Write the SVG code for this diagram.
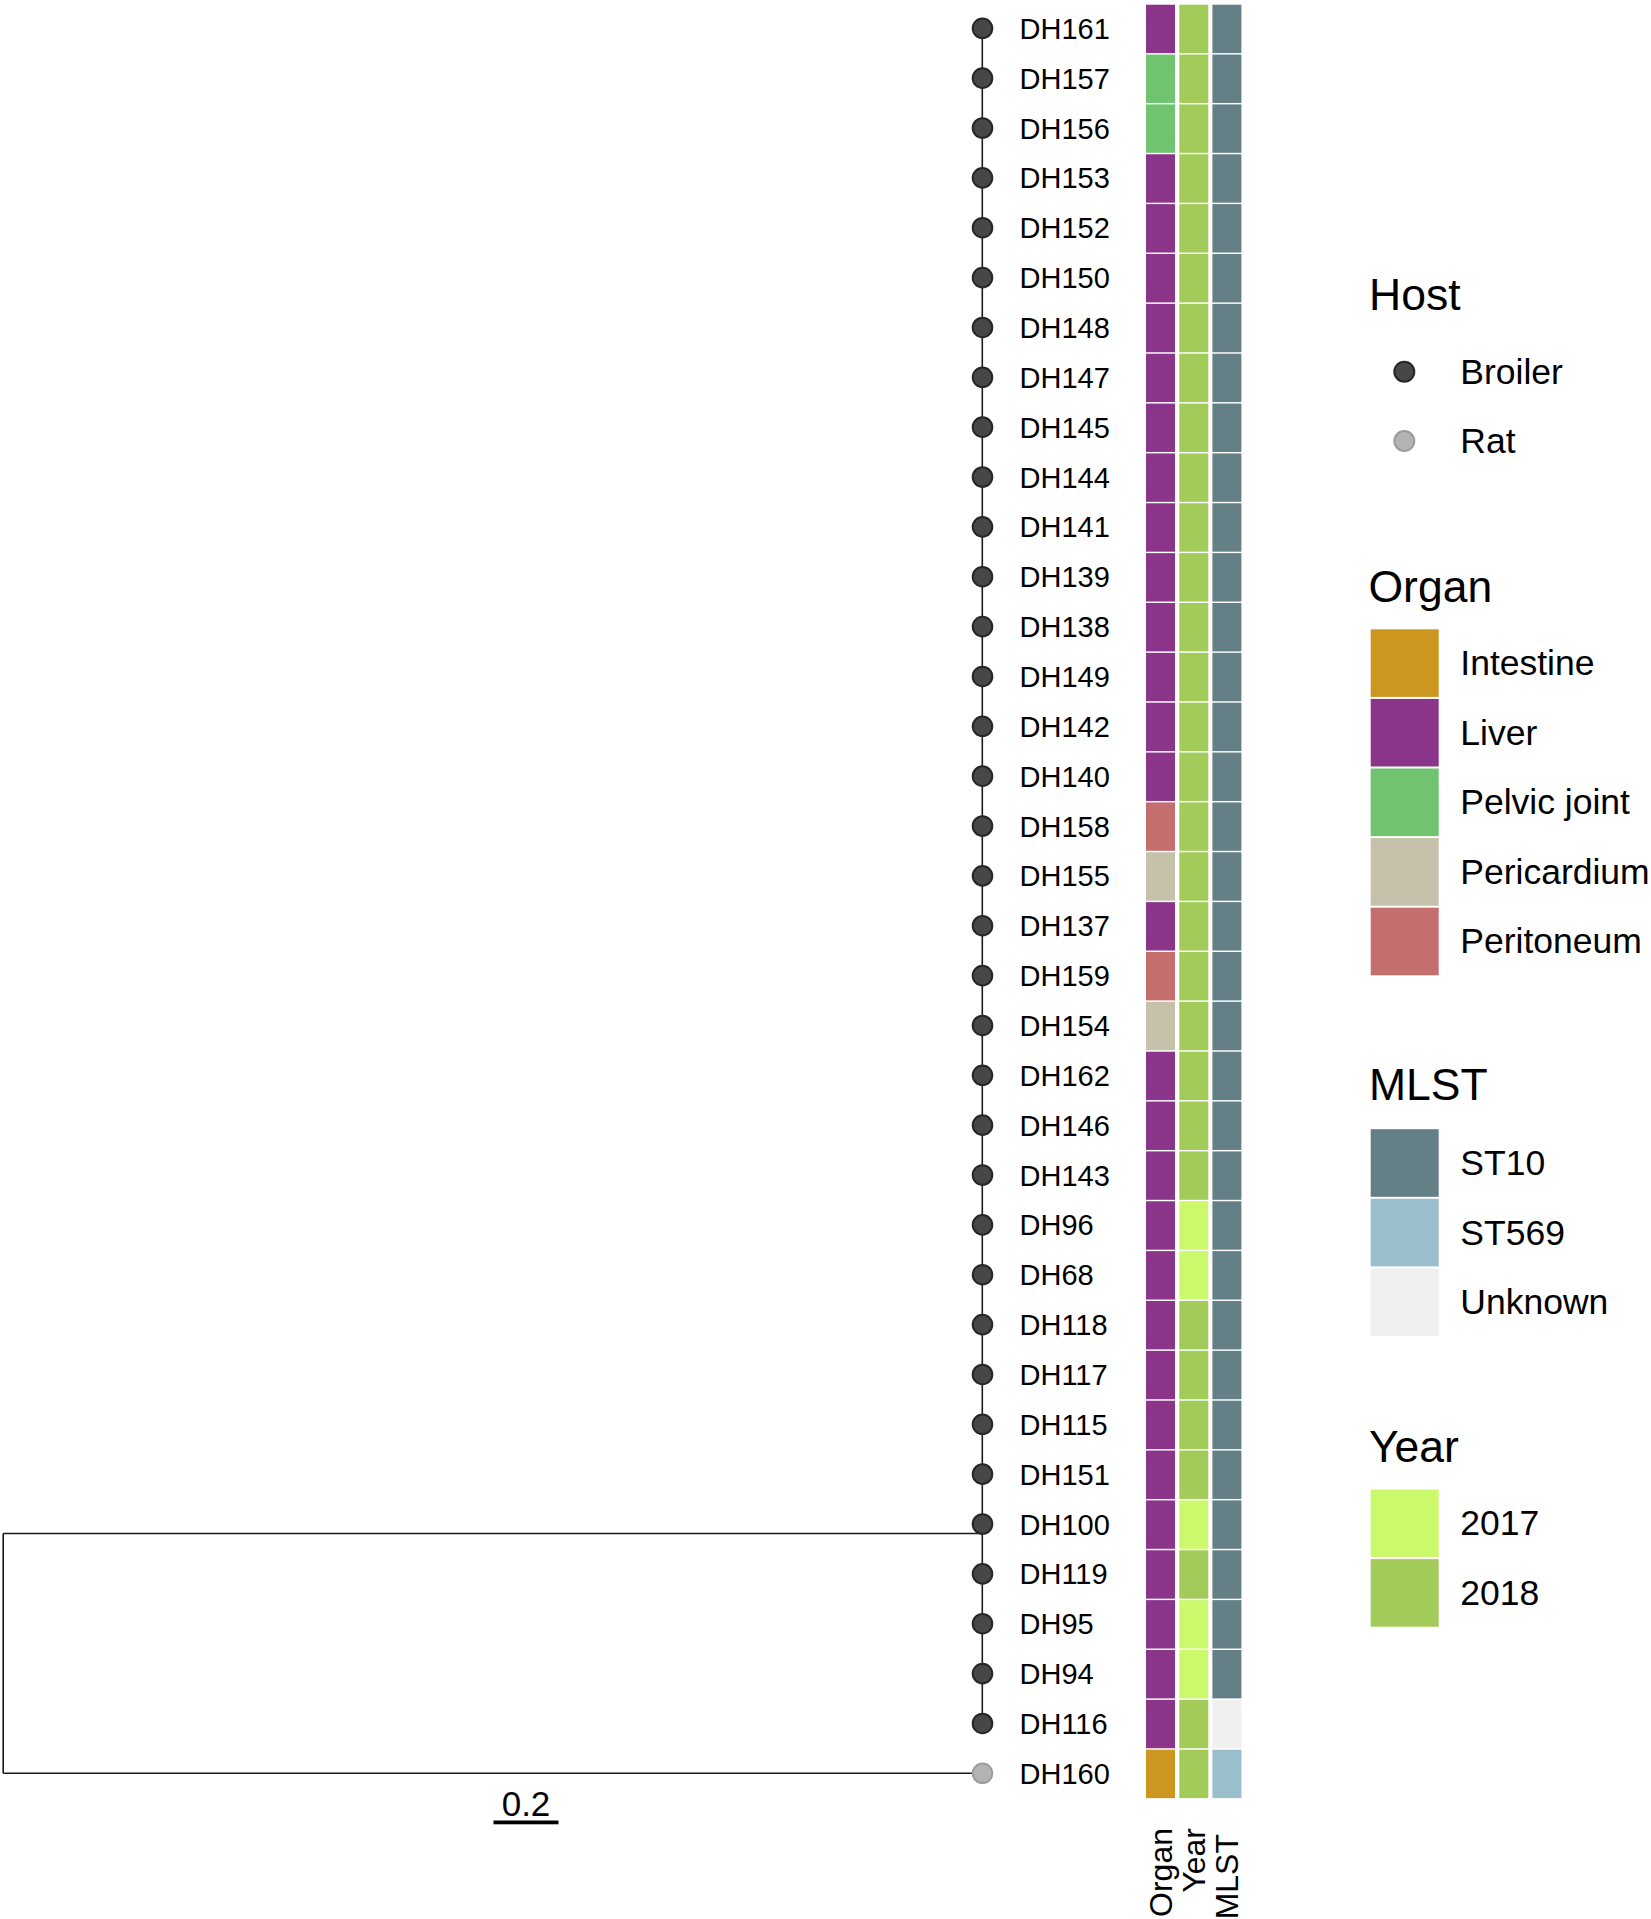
<svg xmlns="http://www.w3.org/2000/svg" width="1651" height="1919" viewBox="0 0 1651 1919">
<style>
text{font-family:"Liberation Sans",Arial,sans-serif;fill:#000}
.lbl{font-size:29px}
.ltitle{font-size:44.5px}
.litem{font-size:35.5px}
.axis{font-size:32px}
.edge{stroke:#1a1a1a;stroke-width:1.6;fill:none}
.broiler{fill:#474747;stroke:#262626;stroke-width:2}
.rat{fill:#b3b3b3;stroke:#9c9c9c;stroke-width:2}
.liver{fill:#8b358a}
.intestine{fill:#cc961f}
.pelvic{fill:#70c46f}
.pericardium{fill:#c6c1aa}
.peritoneum{fill:#c56e6e}
.y2017{fill:#cbf96b}
.y2018{fill:#a2cb5a}
.st10{fill:#647f85}
.st569{fill:#9bbecc}
.unknown{fill:#f0f0f0}
</style>
<defs>
<rect id="tile" width="29" height="48.4"/>
</defs>
<rect width="1651" height="1919" fill="#fff"/>
<g id="connectors">
<line class="edge" x1="982.3" y1="28.3" x2="982.3" y2="1723.4"/>
<line class="edge" x1="3.2" y1="1533.5" x2="982.3" y2="1533.5"/>
<line class="edge" x1="3.2" y1="1533.5" x2="3.2" y2="1773.3"/>
<line class="edge" x1="3.2" y1="1773.3" x2="982.3" y2="1773.3"/>
</g>
<g id="nodes">
<g id="node-DH161" transform="translate(0,28.3)"><circle class="broiler" cx="982.5" cy="0" r="9.8"/><text class="lbl" x="1019.5" y="10.5">DH161</text><use href="#tile" class="liver" x="1146" y="-23.6"/><use href="#tile" class="y2018" x="1179.3" y="-23.6"/><use href="#tile" class="st10" x="1212.4" y="-23.6"/></g>
<g id="node-DH157" transform="translate(0,78.16)"><circle class="broiler" cx="982.5" cy="0" r="9.8"/><text class="lbl" x="1019.5" y="10.5">DH157</text><use href="#tile" class="pelvic" x="1146" y="-23.6"/><use href="#tile" class="y2018" x="1179.3" y="-23.6"/><use href="#tile" class="st10" x="1212.4" y="-23.6"/></g>
<g id="node-DH156" transform="translate(0,128.01)"><circle class="broiler" cx="982.5" cy="0" r="9.8"/><text class="lbl" x="1019.5" y="10.5">DH156</text><use href="#tile" class="pelvic" x="1146" y="-23.6"/><use href="#tile" class="y2018" x="1179.3" y="-23.6"/><use href="#tile" class="st10" x="1212.4" y="-23.6"/></g>
<g id="node-DH153" transform="translate(0,177.87)"><circle class="broiler" cx="982.5" cy="0" r="9.8"/><text class="lbl" x="1019.5" y="10.5">DH153</text><use href="#tile" class="liver" x="1146" y="-23.6"/><use href="#tile" class="y2018" x="1179.3" y="-23.6"/><use href="#tile" class="st10" x="1212.4" y="-23.6"/></g>
<g id="node-DH152" transform="translate(0,227.73)"><circle class="broiler" cx="982.5" cy="0" r="9.8"/><text class="lbl" x="1019.5" y="10.5">DH152</text><use href="#tile" class="liver" x="1146" y="-23.6"/><use href="#tile" class="y2018" x="1179.3" y="-23.6"/><use href="#tile" class="st10" x="1212.4" y="-23.6"/></g>
<g id="node-DH150" transform="translate(0,277.59)"><circle class="broiler" cx="982.5" cy="0" r="9.8"/><text class="lbl" x="1019.5" y="10.5">DH150</text><use href="#tile" class="liver" x="1146" y="-23.6"/><use href="#tile" class="y2018" x="1179.3" y="-23.6"/><use href="#tile" class="st10" x="1212.4" y="-23.6"/></g>
<g id="node-DH148" transform="translate(0,327.44)"><circle class="broiler" cx="982.5" cy="0" r="9.8"/><text class="lbl" x="1019.5" y="10.5">DH148</text><use href="#tile" class="liver" x="1146" y="-23.6"/><use href="#tile" class="y2018" x="1179.3" y="-23.6"/><use href="#tile" class="st10" x="1212.4" y="-23.6"/></g>
<g id="node-DH147" transform="translate(0,377.30)"><circle class="broiler" cx="982.5" cy="0" r="9.8"/><text class="lbl" x="1019.5" y="10.5">DH147</text><use href="#tile" class="liver" x="1146" y="-23.6"/><use href="#tile" class="y2018" x="1179.3" y="-23.6"/><use href="#tile" class="st10" x="1212.4" y="-23.6"/></g>
<g id="node-DH145" transform="translate(0,427.16)"><circle class="broiler" cx="982.5" cy="0" r="9.8"/><text class="lbl" x="1019.5" y="10.5">DH145</text><use href="#tile" class="liver" x="1146" y="-23.6"/><use href="#tile" class="y2018" x="1179.3" y="-23.6"/><use href="#tile" class="st10" x="1212.4" y="-23.6"/></g>
<g id="node-DH144" transform="translate(0,477.01)"><circle class="broiler" cx="982.5" cy="0" r="9.8"/><text class="lbl" x="1019.5" y="10.5">DH144</text><use href="#tile" class="liver" x="1146" y="-23.6"/><use href="#tile" class="y2018" x="1179.3" y="-23.6"/><use href="#tile" class="st10" x="1212.4" y="-23.6"/></g>
<g id="node-DH141" transform="translate(0,526.87)"><circle class="broiler" cx="982.5" cy="0" r="9.8"/><text class="lbl" x="1019.5" y="10.5">DH141</text><use href="#tile" class="liver" x="1146" y="-23.6"/><use href="#tile" class="y2018" x="1179.3" y="-23.6"/><use href="#tile" class="st10" x="1212.4" y="-23.6"/></g>
<g id="node-DH139" transform="translate(0,576.73)"><circle class="broiler" cx="982.5" cy="0" r="9.8"/><text class="lbl" x="1019.5" y="10.5">DH139</text><use href="#tile" class="liver" x="1146" y="-23.6"/><use href="#tile" class="y2018" x="1179.3" y="-23.6"/><use href="#tile" class="st10" x="1212.4" y="-23.6"/></g>
<g id="node-DH138" transform="translate(0,626.58)"><circle class="broiler" cx="982.5" cy="0" r="9.8"/><text class="lbl" x="1019.5" y="10.5">DH138</text><use href="#tile" class="liver" x="1146" y="-23.6"/><use href="#tile" class="y2018" x="1179.3" y="-23.6"/><use href="#tile" class="st10" x="1212.4" y="-23.6"/></g>
<g id="node-DH149" transform="translate(0,676.44)"><circle class="broiler" cx="982.5" cy="0" r="9.8"/><text class="lbl" x="1019.5" y="10.5">DH149</text><use href="#tile" class="liver" x="1146" y="-23.6"/><use href="#tile" class="y2018" x="1179.3" y="-23.6"/><use href="#tile" class="st10" x="1212.4" y="-23.6"/></g>
<g id="node-DH142" transform="translate(0,726.30)"><circle class="broiler" cx="982.5" cy="0" r="9.8"/><text class="lbl" x="1019.5" y="10.5">DH142</text><use href="#tile" class="liver" x="1146" y="-23.6"/><use href="#tile" class="y2018" x="1179.3" y="-23.6"/><use href="#tile" class="st10" x="1212.4" y="-23.6"/></g>
<g id="node-DH140" transform="translate(0,776.16)"><circle class="broiler" cx="982.5" cy="0" r="9.8"/><text class="lbl" x="1019.5" y="10.5">DH140</text><use href="#tile" class="liver" x="1146" y="-23.6"/><use href="#tile" class="y2018" x="1179.3" y="-23.6"/><use href="#tile" class="st10" x="1212.4" y="-23.6"/></g>
<g id="node-DH158" transform="translate(0,826.01)"><circle class="broiler" cx="982.5" cy="0" r="9.8"/><text class="lbl" x="1019.5" y="10.5">DH158</text><use href="#tile" class="peritoneum" x="1146" y="-23.6"/><use href="#tile" class="y2018" x="1179.3" y="-23.6"/><use href="#tile" class="st10" x="1212.4" y="-23.6"/></g>
<g id="node-DH155" transform="translate(0,875.87)"><circle class="broiler" cx="982.5" cy="0" r="9.8"/><text class="lbl" x="1019.5" y="10.5">DH155</text><use href="#tile" class="pericardium" x="1146" y="-23.6"/><use href="#tile" class="y2018" x="1179.3" y="-23.6"/><use href="#tile" class="st10" x="1212.4" y="-23.6"/></g>
<g id="node-DH137" transform="translate(0,925.73)"><circle class="broiler" cx="982.5" cy="0" r="9.8"/><text class="lbl" x="1019.5" y="10.5">DH137</text><use href="#tile" class="liver" x="1146" y="-23.6"/><use href="#tile" class="y2018" x="1179.3" y="-23.6"/><use href="#tile" class="st10" x="1212.4" y="-23.6"/></g>
<g id="node-DH159" transform="translate(0,975.58)"><circle class="broiler" cx="982.5" cy="0" r="9.8"/><text class="lbl" x="1019.5" y="10.5">DH159</text><use href="#tile" class="peritoneum" x="1146" y="-23.6"/><use href="#tile" class="y2018" x="1179.3" y="-23.6"/><use href="#tile" class="st10" x="1212.4" y="-23.6"/></g>
<g id="node-DH154" transform="translate(0,1025.44)"><circle class="broiler" cx="982.5" cy="0" r="9.8"/><text class="lbl" x="1019.5" y="10.5">DH154</text><use href="#tile" class="pericardium" x="1146" y="-23.6"/><use href="#tile" class="y2018" x="1179.3" y="-23.6"/><use href="#tile" class="st10" x="1212.4" y="-23.6"/></g>
<g id="node-DH162" transform="translate(0,1075.30)"><circle class="broiler" cx="982.5" cy="0" r="9.8"/><text class="lbl" x="1019.5" y="10.5">DH162</text><use href="#tile" class="liver" x="1146" y="-23.6"/><use href="#tile" class="y2018" x="1179.3" y="-23.6"/><use href="#tile" class="st10" x="1212.4" y="-23.6"/></g>
<g id="node-DH146" transform="translate(0,1125.15)"><circle class="broiler" cx="982.5" cy="0" r="9.8"/><text class="lbl" x="1019.5" y="10.5">DH146</text><use href="#tile" class="liver" x="1146" y="-23.6"/><use href="#tile" class="y2018" x="1179.3" y="-23.6"/><use href="#tile" class="st10" x="1212.4" y="-23.6"/></g>
<g id="node-DH143" transform="translate(0,1175.01)"><circle class="broiler" cx="982.5" cy="0" r="9.8"/><text class="lbl" x="1019.5" y="10.5">DH143</text><use href="#tile" class="liver" x="1146" y="-23.6"/><use href="#tile" class="y2018" x="1179.3" y="-23.6"/><use href="#tile" class="st10" x="1212.4" y="-23.6"/></g>
<g id="node-DH96" transform="translate(0,1224.87)"><circle class="broiler" cx="982.5" cy="0" r="9.8"/><text class="lbl" x="1019.5" y="10.5">DH96</text><use href="#tile" class="liver" x="1146" y="-23.6"/><use href="#tile" class="y2017" x="1179.3" y="-23.6"/><use href="#tile" class="st10" x="1212.4" y="-23.6"/></g>
<g id="node-DH68" transform="translate(0,1274.73)"><circle class="broiler" cx="982.5" cy="0" r="9.8"/><text class="lbl" x="1019.5" y="10.5">DH68</text><use href="#tile" class="liver" x="1146" y="-23.6"/><use href="#tile" class="y2017" x="1179.3" y="-23.6"/><use href="#tile" class="st10" x="1212.4" y="-23.6"/></g>
<g id="node-DH118" transform="translate(0,1324.58)"><circle class="broiler" cx="982.5" cy="0" r="9.8"/><text class="lbl" x="1019.5" y="10.5">DH118</text><use href="#tile" class="liver" x="1146" y="-23.6"/><use href="#tile" class="y2018" x="1179.3" y="-23.6"/><use href="#tile" class="st10" x="1212.4" y="-23.6"/></g>
<g id="node-DH117" transform="translate(0,1374.44)"><circle class="broiler" cx="982.5" cy="0" r="9.8"/><text class="lbl" x="1019.5" y="10.5">DH117</text><use href="#tile" class="liver" x="1146" y="-23.6"/><use href="#tile" class="y2018" x="1179.3" y="-23.6"/><use href="#tile" class="st10" x="1212.4" y="-23.6"/></g>
<g id="node-DH115" transform="translate(0,1424.30)"><circle class="broiler" cx="982.5" cy="0" r="9.8"/><text class="lbl" x="1019.5" y="10.5">DH115</text><use href="#tile" class="liver" x="1146" y="-23.6"/><use href="#tile" class="y2018" x="1179.3" y="-23.6"/><use href="#tile" class="st10" x="1212.4" y="-23.6"/></g>
<g id="node-DH151" transform="translate(0,1474.15)"><circle class="broiler" cx="982.5" cy="0" r="9.8"/><text class="lbl" x="1019.5" y="10.5">DH151</text><use href="#tile" class="liver" x="1146" y="-23.6"/><use href="#tile" class="y2018" x="1179.3" y="-23.6"/><use href="#tile" class="st10" x="1212.4" y="-23.6"/></g>
<g id="node-DH100" transform="translate(0,1524.01)"><circle class="broiler" cx="982.5" cy="0" r="9.8"/><text class="lbl" x="1019.5" y="10.5">DH100</text><use href="#tile" class="liver" x="1146" y="-23.6"/><use href="#tile" class="y2017" x="1179.3" y="-23.6"/><use href="#tile" class="st10" x="1212.4" y="-23.6"/></g>
<g id="node-DH119" transform="translate(0,1573.87)"><circle class="broiler" cx="982.5" cy="0" r="9.8"/><text class="lbl" x="1019.5" y="10.5">DH119</text><use href="#tile" class="liver" x="1146" y="-23.6"/><use href="#tile" class="y2018" x="1179.3" y="-23.6"/><use href="#tile" class="st10" x="1212.4" y="-23.6"/></g>
<g id="node-DH95" transform="translate(0,1623.72)"><circle class="broiler" cx="982.5" cy="0" r="9.8"/><text class="lbl" x="1019.5" y="10.5">DH95</text><use href="#tile" class="liver" x="1146" y="-23.6"/><use href="#tile" class="y2017" x="1179.3" y="-23.6"/><use href="#tile" class="st10" x="1212.4" y="-23.6"/></g>
<g id="node-DH94" transform="translate(0,1673.58)"><circle class="broiler" cx="982.5" cy="0" r="9.8"/><text class="lbl" x="1019.5" y="10.5">DH94</text><use href="#tile" class="liver" x="1146" y="-23.6"/><use href="#tile" class="y2017" x="1179.3" y="-23.6"/><use href="#tile" class="st10" x="1212.4" y="-23.6"/></g>
<g id="node-DH116" transform="translate(0,1723.44)"><circle class="broiler" cx="982.5" cy="0" r="9.8"/><text class="lbl" x="1019.5" y="10.5">DH116</text><use href="#tile" class="liver" x="1146" y="-23.6"/><use href="#tile" class="y2018" x="1179.3" y="-23.6"/><use href="#tile" class="unknown" x="1212.4" y="-23.6"/></g>
<g id="node-DH160" transform="translate(0,1773.30)"><circle class="rat" cx="982.5" cy="0" r="9.8"/><text class="lbl" x="1019.5" y="10.5">DH160</text><use href="#tile" class="intestine" x="1146" y="-23.6"/><use href="#tile" class="y2018" x="1179.3" y="-23.6"/><use href="#tile" class="st569" x="1212.4" y="-23.6"/></g>
</g>
<g id="column-labels">
<text class="axis" text-anchor="end" transform="translate(1171.5,1828) rotate(-90)">Organ</text>
<text class="axis" text-anchor="end" transform="translate(1204.5,1828) rotate(-90)">Year</text>
<text class="axis" text-anchor="end" transform="translate(1238,1834) rotate(-90)">MLST</text>
</g>
<g id="scale-bar">
<text x="526" y="1816" font-size="35" text-anchor="middle">0.2</text>
<rect x="493.5" y="1820.5" width="65" height="3.8" fill="#000"/>
</g>
<g id="legend-host">
<text class="ltitle" x="1369" y="310">Host</text>
<circle class="broiler" cx="1404.3" cy="371.7" r="10"/>
<text class="litem" x="1460.3" y="384">Broiler</text>
<circle class="rat" cx="1404.3" cy="441" r="10"/>
<text class="litem" x="1460.3" y="453.3">Rat</text>
</g>
<g id="legend-organ">
<text class="ltitle" x="1368.5" y="601.7">Organ</text>
<rect class="intestine" x="1370.7" y="629.3" width="68" height="67.6"/>
<rect class="liver" x="1370.7" y="698.9" width="68" height="67.6"/>
<rect class="pelvic" x="1370.7" y="768.5" width="68" height="67.6"/>
<rect class="pericardium" x="1370.7" y="838.1" width="68" height="67.6"/>
<rect class="peritoneum" x="1370.7" y="907.7" width="68" height="67.6"/>
<text class="litem" x="1460.3" y="675">Intestine</text>
<text class="litem" x="1460.3" y="744.6">Liver</text>
<text class="litem" x="1460.3" y="814.2">Pelvic joint</text>
<text class="litem" x="1460.3" y="883.8">Pericardium</text>
<text class="litem" x="1460.3" y="953.4">Peritoneum</text>
</g>
<g id="legend-mlst">
<text class="ltitle" x="1369" y="1100">MLST</text>
<rect class="st10" x="1370.7" y="1129.2" width="68" height="67.6"/>
<rect class="st569" x="1370.7" y="1198.8" width="68" height="67.6"/>
<rect class="unknown" x="1370.7" y="1268.4" width="68" height="67.6"/>
<text class="litem" x="1460.3" y="1175">ST10</text>
<text class="litem" x="1460.3" y="1244.6">ST569</text>
<text class="litem" x="1460.3" y="1314.2">Unknown</text>
</g>
<g id="legend-year">
<text class="ltitle" x="1369" y="1462">Year</text>
<rect class="y2017" x="1370.7" y="1489.5" width="68" height="67.6"/>
<rect class="y2018" x="1370.7" y="1559.1" width="68" height="67.6"/>
<text class="litem" x="1460.3" y="1535.2">2017</text>
<text class="litem" x="1460.3" y="1604.8">2018</text>
</g>
</svg>
